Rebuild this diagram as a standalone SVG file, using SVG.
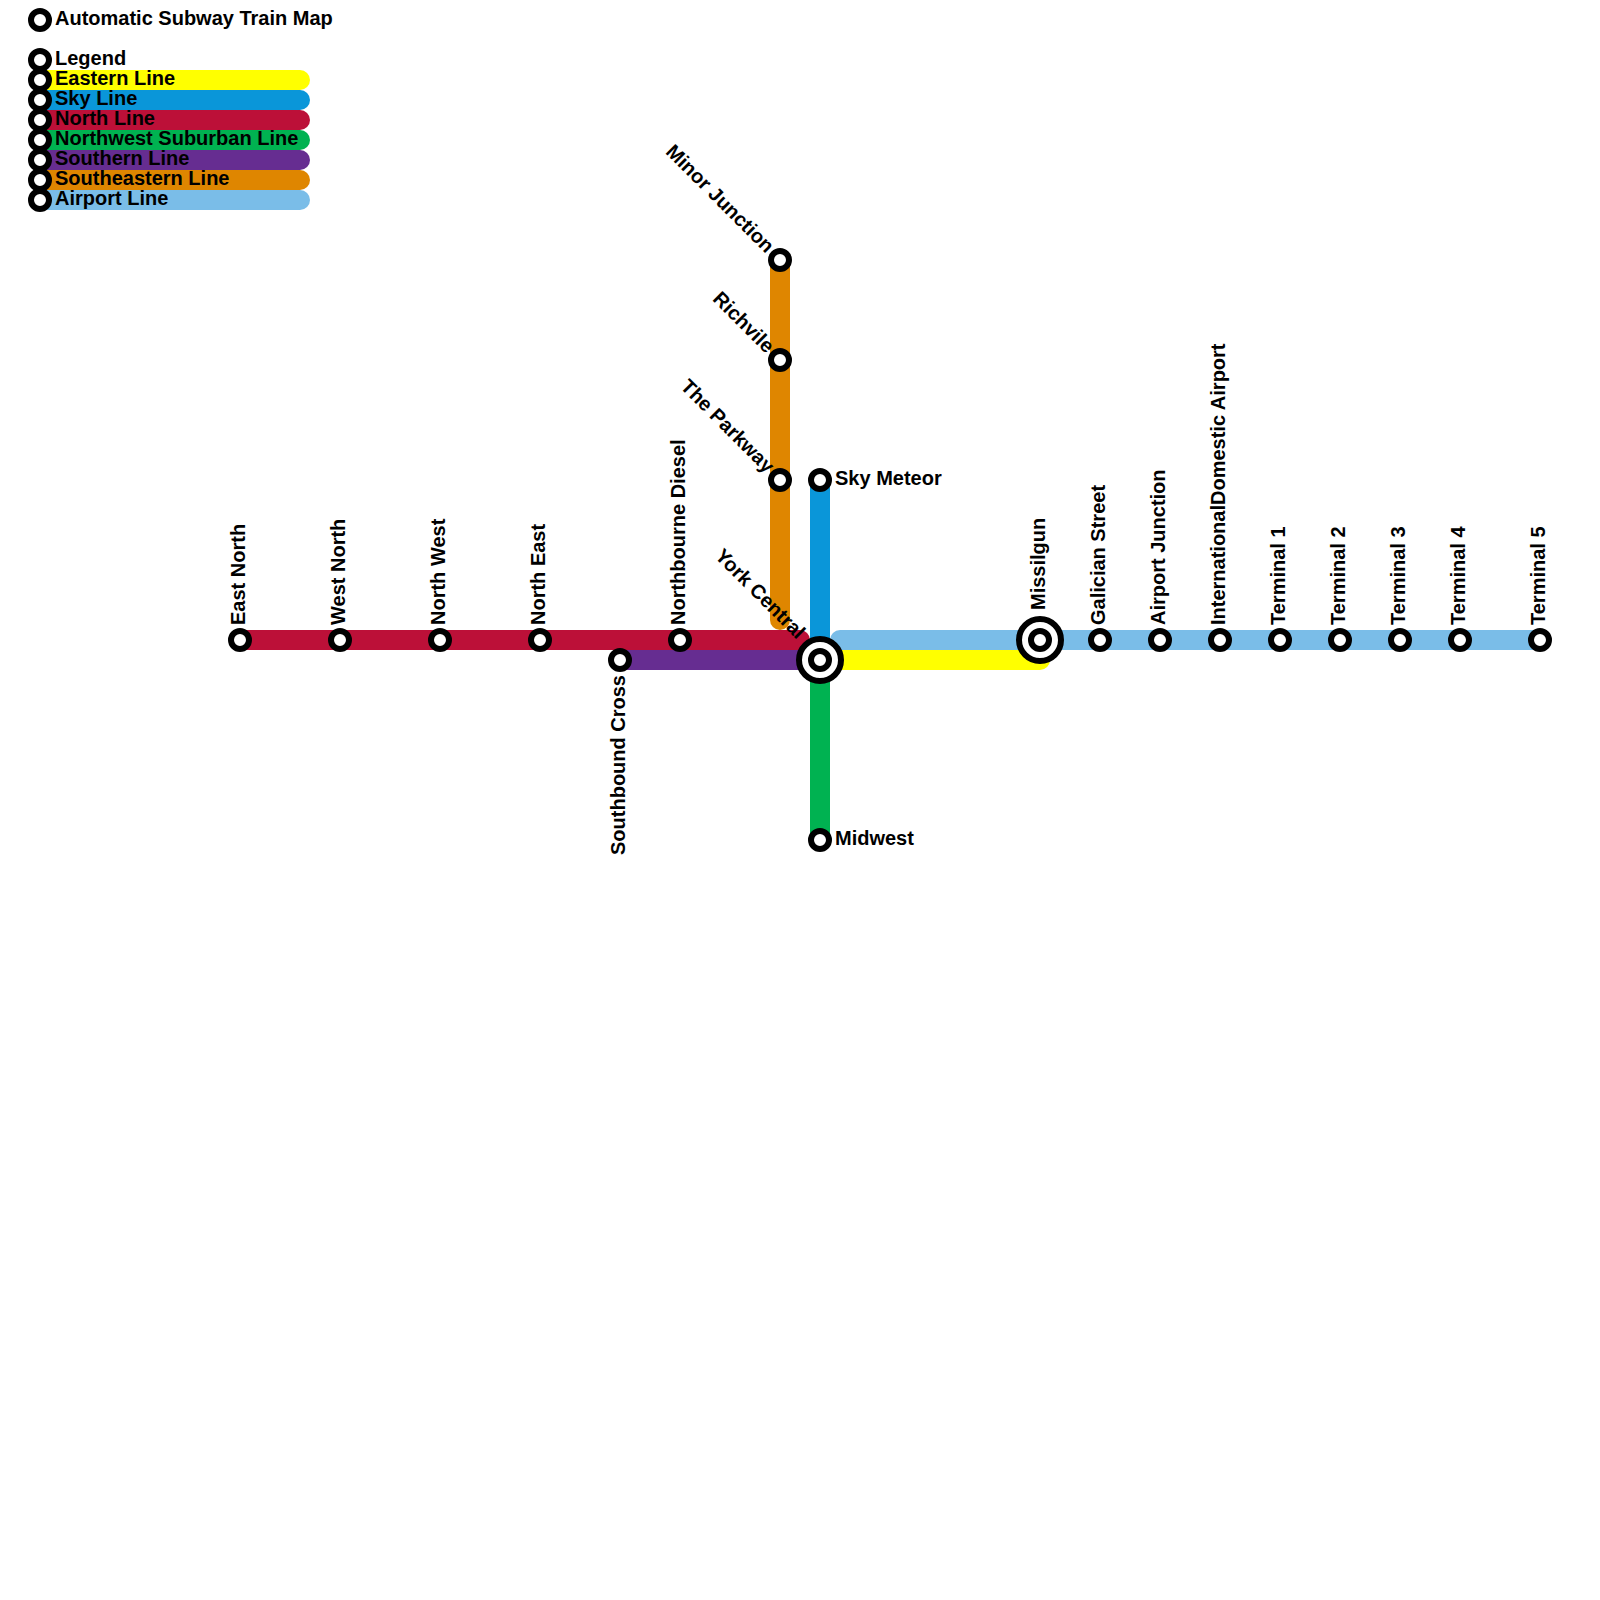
<svg xmlns="http://www.w3.org/2000/svg" width="1600" height="1600" viewBox="0 0 1600 1600">
<style>
.l{fill:none;stroke-width:20;stroke-linecap:round;stroke-linejoin:round}
.e{stroke:#ffff00}.s{stroke:#0a96d9}.n{stroke:#bc1038}.w{stroke:#00b251}.p{stroke:#662d91}.o{stroke:#df8600}.a{stroke:#7abde8}
.st{fill:#fff;stroke:#000;stroke-width:6}
text{font-family:"Liberation Sans",Arial,sans-serif;font-weight:bold;font-size:20px;fill:#000}
.end{text-anchor:end}
</style>
<rect width="1600" height="1600" fill="#fff"/>
<g id="connectors">
<path class="l e" d="M40 80H300"/><path class="l s" d="M40 100H300"/><path class="l n" d="M40 120H300"/><path class="l w" d="M40 140H300"/><path class="l p" d="M40 160H300"/><path class="l o" d="M40 180H300"/><path class="l a" d="M40 200H300"/>
<path class="l e" d="M820 660H1040"/>
<path class="l s" d="M820 480V660"/>
<path class="l o" d="M780 260V620"/>
<path class="l n" d="M240 640H800"/>
<path class="l w" d="M820 660V840"/>
<path class="l p" d="M620 660H820"/>
<path class="l a" d="M840 640H1540"/>
</g>
<g id="title"><circle class="st" cx="40" cy="20" r="9"/><text x="55" y="25">Automatic Subway Train Map</text></g>
<g id="legend-head"><circle class="st" cx="40" cy="60" r="9"/><text x="55" y="65">Legend</text></g>
<g id="legend-eastern"><circle class="st" cx="40" cy="80" r="9"/><text x="55" y="85">Eastern Line</text></g>
<g id="legend-sky"><circle class="st" cx="40" cy="100" r="9"/><text x="55" y="105">Sky Line</text></g>
<g id="legend-north"><circle class="st" cx="40" cy="120" r="9"/><text x="55" y="125">North Line</text></g>
<g id="legend-northwest"><circle class="st" cx="40" cy="140" r="9"/><text x="55" y="145">Northwest Suburban Line</text></g>
<g id="legend-southern"><circle class="st" cx="40" cy="160" r="9"/><text x="55" y="165">Southern Line</text></g>
<g id="legend-southeastern"><circle class="st" cx="40" cy="180" r="9"/><text x="55" y="185">Southeastern Line</text></g>
<g id="legend-airport"><circle class="st" cx="40" cy="200" r="9"/><text x="55" y="205">Airport Line</text></g>
<g id="east-north"><circle class="st" cx="240" cy="640" r="9"/><text transform="translate(245 625) rotate(-90)">East North</text></g>
<g id="west-north"><circle class="st" cx="340" cy="640" r="9"/><text transform="translate(345 625) rotate(-90)">West North</text></g>
<g id="north-west"><circle class="st" cx="440" cy="640" r="9"/><text transform="translate(445 625) rotate(-90)">North West</text></g>
<g id="north-east"><circle class="st" cx="540" cy="640" r="9"/><text transform="translate(545 625) rotate(-90)">North East</text></g>
<g id="northbourne"><circle class="st" cx="680" cy="640" r="9"/><text transform="translate(685 625) rotate(-90)">Northbourne Diesel</text></g>
<g id="southbound"><circle class="st" cx="620" cy="660" r="9"/><text class="end" transform="translate(625 675) rotate(-90)">Southbound Cross</text></g>
<g id="minor"><circle class="st" cx="780" cy="260" r="9"/><text class="end" transform="translate(766 254) rotate(45)">Minor Junction</text></g>
<g id="richvile"><circle class="st" cx="780" cy="360" r="9"/><text class="end" transform="translate(766 354) rotate(45)">Richvile</text></g>
<g id="parkway"><circle class="st" cx="780" cy="480" r="9"/><text class="end" transform="translate(766 474) rotate(45)">The Parkway</text></g>
<g id="york"><circle class="st" cx="820" cy="660" r="21"/><circle class="st" cx="820" cy="660" r="9"/><text class="end" transform="translate(797 640) rotate(45)">York Central</text></g>
<g id="sky-meteor"><circle class="st" cx="820" cy="480" r="9"/><text x="835" y="485">Sky Meteor</text></g>
<g id="midwest"><circle class="st" cx="820" cy="840" r="9"/><text x="835" y="845">Midwest</text></g>
<g id="missilgun"><circle class="st" cx="1040" cy="640" r="21"/><circle class="st" cx="1040" cy="640" r="9"/><text transform="translate(1045 610) rotate(-90)">Missilgun</text></g>
<g id="galician"><circle class="st" cx="1100" cy="640" r="9"/><text transform="translate(1105 625) rotate(-90)">Galician Street</text></g>
<g id="airport-junction"><circle class="st" cx="1160" cy="640" r="9"/><text transform="translate(1165 625) rotate(-90)">Airport Junction</text></g>
<g id="intl"><circle class="st" cx="1220" cy="640" r="9"/><text transform="translate(1225 625) rotate(-90)">InternationalDomestic Airport</text></g>
<g id="t1"><circle class="st" cx="1280" cy="640" r="9"/><text transform="translate(1285 625) rotate(-90)">Terminal 1</text></g>
<g id="t2"><circle class="st" cx="1340" cy="640" r="9"/><text transform="translate(1345 625) rotate(-90)">Terminal 2</text></g>
<g id="t3"><circle class="st" cx="1400" cy="640" r="9"/><text transform="translate(1405 625) rotate(-90)">Terminal 3</text></g>
<g id="t4"><circle class="st" cx="1460" cy="640" r="9"/><text transform="translate(1465 625) rotate(-90)">Terminal 4</text></g>
<g id="t5"><circle class="st" cx="1540" cy="640" r="9"/><text transform="translate(1545 625) rotate(-90)">Terminal 5</text></g>
</svg>
